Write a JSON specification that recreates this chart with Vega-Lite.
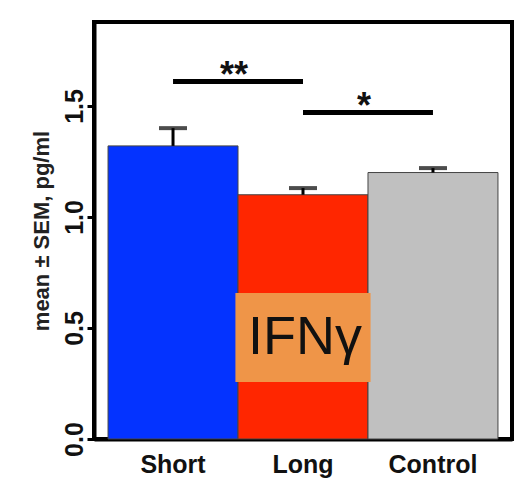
{
  "$schema": "https://vega.github.io/schema/vega-lite/v6.json",
  "width": 418,
  "height": 417,
  "autosize": "none",
  "padding": {"left": 94, "top": 22, "right": 10, "bottom": 48},
  "background": "white",
  "config": {
    "font": "Liberation Sans",
    "view": {"stroke": "black", "strokeWidth": 4}
  },
  "datasets": {
    "groups": [
      {"group": "Short", "mean": 1.32, "upper": 1.40},
      {"group": "Long", "mean": 1.10, "upper": 1.13},
      {"group": "Control", "mean": 1.20, "upper": 1.22}
    ],
    "sig": [
      {"group": "Short", "group2": "Long", "y": 1.61, "stars": "**"},
      {"group": "Long", "group2": "Control", "y": 1.47, "stars": "*"}
    ],
    "tag": [
      {"group": "Long", "low": 0.257, "high": 0.658, "base": 0.383, "text": "IFNγ"}
    ]
  },
  "encoding": {
    "x": {
      "field": "group",
      "type": "nominal",
      "sort": ["Short", "Long", "Control"],
      "title": null,
      "scale": {"paddingInner": 0, "paddingOuter": 0.108},
      "axis": {
        "labelAngle": 0,
        "ticks": false,
        "tickSize": 0,
        "domainColor": "black",
        "domainWidth": 4,
        "labelFontSize": 25,
        "labelFontWeight": "bold",
        "labelColor": "#111",
        "labelPadding": 13,
        "labelBaseline": "top"
      }
    }
  },
  "layer": [
    {
      "data": {"name": "groups"},
      "mark": {"type": "bar", "stroke": "#444", "strokeWidth": 1},
      "encoding": {
        "y": {
          "field": "mean",
          "type": "quantitative",
          "title": "mean ± SEM, pg/ml",
          "scale": {"domain": [0, 1.878], "nice": false},
          "axis": {
            "values": [0, 0.5, 1, 1.5],
            "format": ".1f",
            "grid": false,
            "domainColor": "black",
            "domainWidth": 4,
            "tickColor": "black",
            "tickSize": 7,
            "tickWidth": 3,
            "labelAngle": 270,
            "labelAlign": "center",
            "labelBaseline": "alphabetic",
            "labelPadding": 5,
            "labelFontSize": 25,
            "labelFontWeight": "bold",
            "labelColor": "#111",
            "titleFontSize": 22,
            "titleFontWeight": "bold",
            "titleColor": "#222",
            "titleAngle": 270,
            "titleAlign": "center",
            "titleBaseline": "middle",
            "titleX": -53
          }
        },
        "color": {
          "field": "group",
          "type": "nominal",
          "scale": {"domain": ["Short", "Long", "Control"], "range": ["#0433FF", "#FF2600", "#C0C0C0"]},
          "legend": null
        }
      }
    },
    {
      "data": {"name": "groups"},
      "mark": {"type": "rule", "color": "black", "strokeWidth": 3},
      "encoding": {
        "y": {"field": "mean", "type": "quantitative", "title": "mean ± SEM, pg/ml"},
        "y2": {"field": "upper"}
      }
    },
    {
      "data": {"name": "groups"},
      "mark": {"type": "tick", "color": "black", "size": 28, "thickness": 4},
      "encoding": {
        "y": {"field": "upper", "type": "quantitative", "title": "mean ± SEM, pg/ml"}
      }
    },
    {
      "data": {"name": "tag"},
      "mark": {"type": "bar", "color": "#EF9548", "width": {"band": 1.04}},
      "encoding": {
        "y": {"field": "low", "type": "quantitative", "title": "mean ± SEM, pg/ml"},
        "y2": {"field": "high"}
      }
    },
    {
      "data": {"name": "tag"},
      "mark": {"type": "text", "fontSize": 54, "color": "#111", "align": "center", "baseline": "alphabetic", "dx": 2},
      "encoding": {
        "y": {"field": "base", "type": "quantitative", "title": "mean ± SEM, pg/ml"},
        "text": {"field": "text"}
      }
    },
    {
      "data": {"name": "sig"},
      "mark": {"type": "rule", "color": "black", "strokeWidth": 5},
      "encoding": {
        "x2": {"field": "group2"},
        "y": {"field": "y", "type": "quantitative", "title": "mean ± SEM, pg/ml"}
      }
    },
    {
      "data": {"name": "sig"},
      "mark": {"type": "text", "fontSize": 36, "fontWeight": "bold", "color": "#111", "align": "center", "baseline": "alphabetic", "dx": -4, "dy": 5},
      "encoding": {
        "x": {"field": "group", "type": "nominal", "sort": ["Short", "Long", "Control"], "bandPosition": 1},
        "y": {"field": "y", "type": "quantitative", "title": "mean ± SEM, pg/ml"},
        "text": {"field": "stars"}
      }
    }
  ]
}
